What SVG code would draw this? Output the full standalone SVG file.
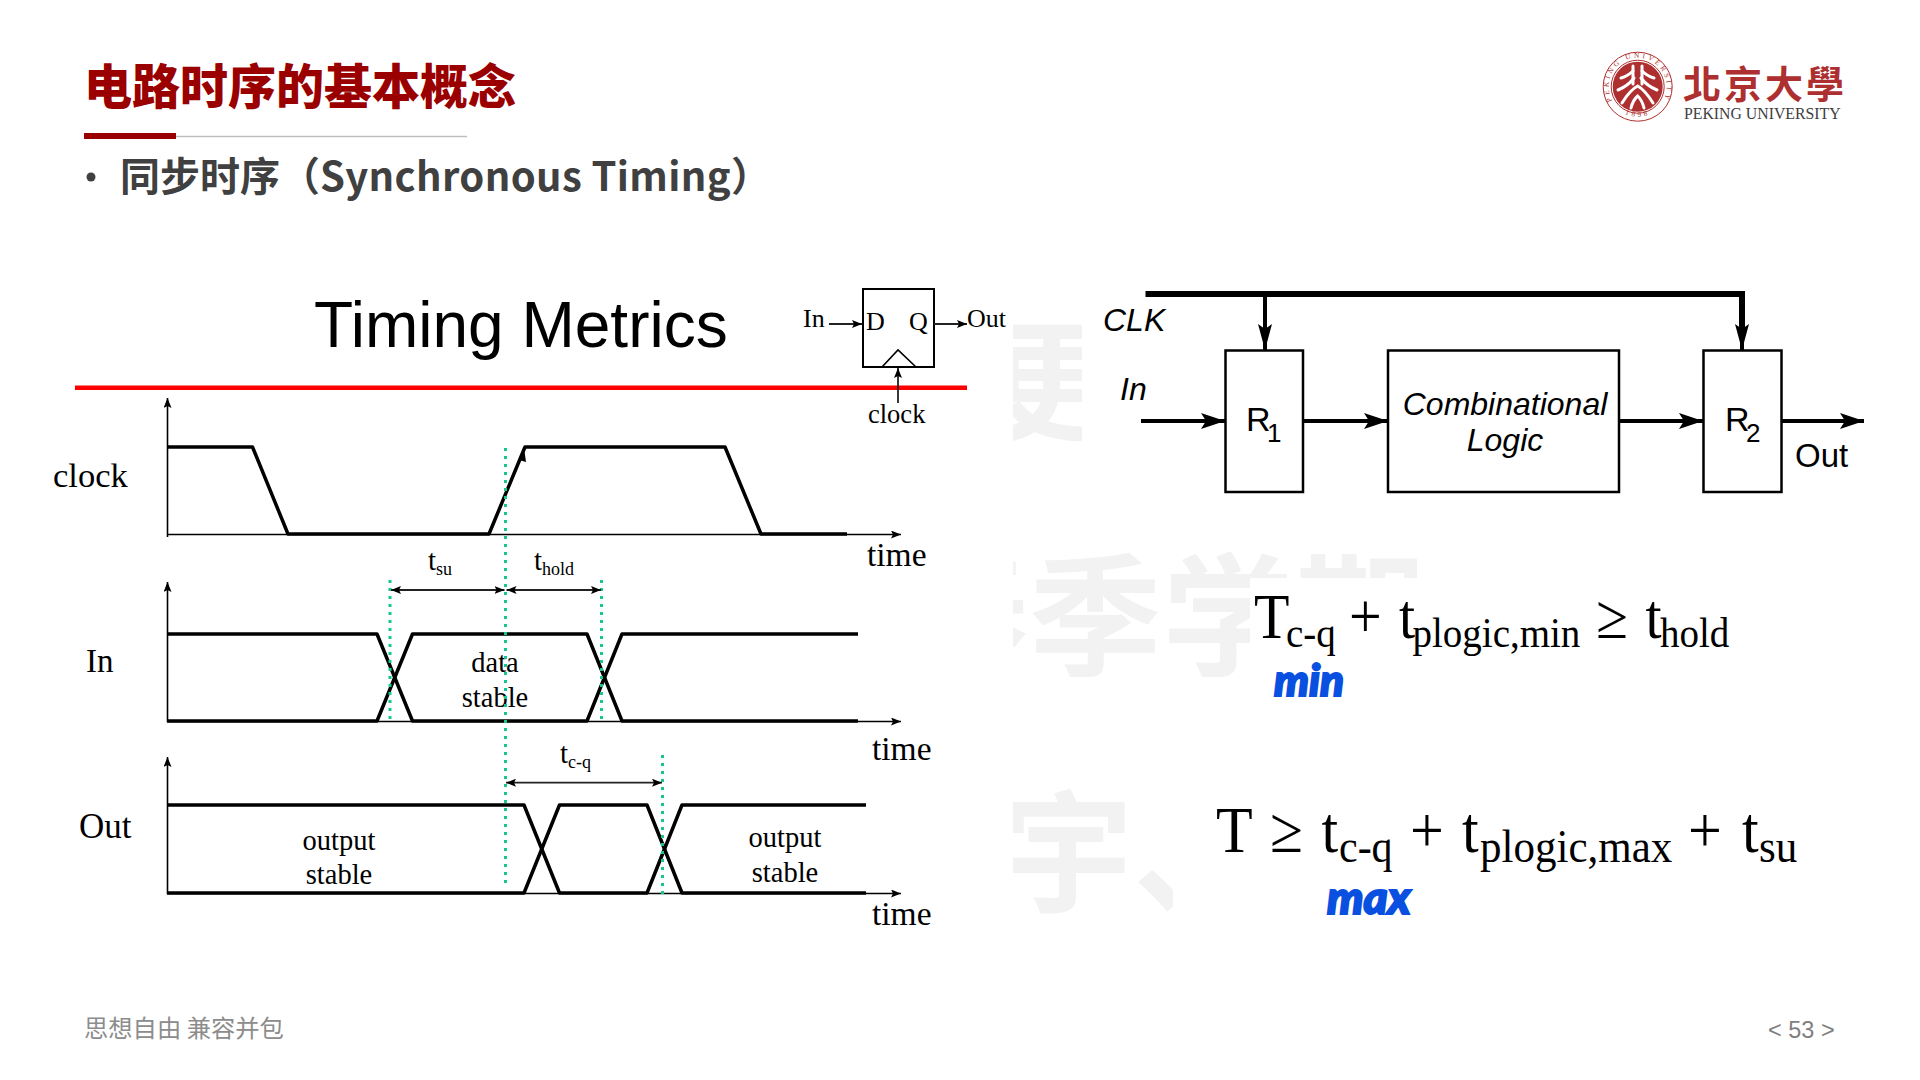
<svg xmlns="http://www.w3.org/2000/svg" width="1920" height="1080" viewBox="0 0 1920 1080">
<style>
.wm{font-family:"Noto Sans CJK SC",sans-serif;font-weight:700;font-size:133px;fill:#f2f2f2}
.se{font-family:"Liberation Serif",serif;fill:#000}
.sa{font-family:"Liberation Sans",sans-serif;fill:#000}
.it{font-style:italic}
.wave{fill:none;stroke:#000;stroke-width:3.5;stroke-linejoin:round}
.ax{fill:none;stroke:#000;stroke-width:1.6}
.dot{fill:none;stroke:#13c795;stroke-width:3;stroke-dasharray:3 5}
.dim{fill:none;stroke:#222;stroke-width:1.8}
.box{fill:#fff;stroke:#000;stroke-width:2.5}
.bus{fill:none;stroke:#000;stroke-width:4}
.ink{font-family:"Lato",sans-serif;font-weight:900;font-style:italic;fill:#0a50e0;stroke:#0a50e0;stroke-width:2}
.seal{fill:none;stroke:#ae2f2f}
.ring{font-family:"Liberation Serif",serif;font-size:7.3px;fill:#ae2f2f}
</style>
<defs>
<marker id="tip" viewBox="0 0 10 8" refX="10" refY="4" markerWidth="10" markerHeight="8" markerUnits="userSpaceOnUse" orient="auto-start-reverse"><path d="M0 0L10 4L0 8L2 4Z" fill="#000"/></marker>
<marker id="big" viewBox="0 0 24 16" refX="24" refY="8" markerWidth="24" markerHeight="16" markerUnits="userSpaceOnUse" orient="auto"><path d="M0 0L24 8L0 16L5 8Z" fill="#000"/></marker>
<marker id="down" viewBox="0 0 14 26" refX="7" refY="26" markerWidth="14" markerHeight="26" markerUnits="userSpaceOnUse" orient="0"><path d="M0 0L7 5L14 0L7 26Z" fill="#000"/></marker>
<path id="ringTop" d="M1612.600 101.200A29 29 0 1 1 1662.800 101.200"/>
<path id="ringBot" d="M1609.500 97A30 30 0 0 0 1665.900 97"/>
<clipPath id="wmClip">
<rect x="1013" y="300" width="69" height="141"/>
<rect x="1013" y="540" width="237" height="137"/>
<rect x="1250" y="540" width="167" height="38"/>
<rect x="1013" y="780" width="160" height="136"/>
</clipPath>
</defs>

<g id="watermark" clip-path="url(#wmClip)">
<text class="wm" x="984" y="432">更</text>
<text class="wm" x="896" y="666">春季学期</text>
<text class="wm" x="1000" y="902">宇、</text>
</g>

<g id="header">
<text x="84" y="104" font-family="'Noto Sans CJK SC',sans-serif" font-weight="900" font-size="48" fill="#9b0000">电路时序的基本概念</text>
<rect x="84" y="133" width="92" height="6" fill="#9b0000"/>
<rect x="176" y="135.800" width="291" height="1.400" fill="#bdbdbd"/>
<circle cx="91" cy="177" r="4.500" fill="#404040"/>
<text x="120" y="191" font-family="'Noto Sans CJK SC',sans-serif" font-weight="700" font-size="40" fill="#404040">同步时序（<tspan letter-spacing="0.35">Synchronous Timing</tspan>）</text>
</g>

<g id="logo">
<circle class="seal" cx="1637.700" cy="86.700" r="34.500" stroke-width="1"/>
<circle class="seal" cx="1637.700" cy="86.700" r="26.500" stroke-width="1"/>
<circle cx="1637.700" cy="86.700" r="25" fill="#ae2f2f"/>
<g fill="none" stroke="#fff" stroke-width="3" stroke-linecap="round">
<path d="M1633 66V84M1642 66V84"/>
<path d="M1621 78Q1628 76 1633 71M1654 78Q1647 76 1642 71"/>
<path d="M1618 90Q1628 86 1634 78M1657 90Q1647 86 1641 78"/>
<path d="M1622 103Q1630 90 1637.700 86Q1645 90 1653 103"/>
<path d="M1631 108Q1633 100 1637.700 96Q1642 100 1644 108"/>
</g>
<text class="ring" letter-spacing="2.800"><textPath href="#ringTop" startOffset="50%" text-anchor="middle">PEKING UNIVERSITY</textPath></text>
<text class="ring" letter-spacing="3"><textPath href="#ringBot" startOffset="50%" text-anchor="middle">1898</textPath></text>
<text x="1683" y="98" font-family="'Noto Sans CJK TC',sans-serif" font-weight="700" font-size="38" letter-spacing="3" fill="#ae2f2f">北京大學</text>
<text x="1684" y="119" font-family="'Liberation Serif',serif" font-size="15.800" fill="#404040">PEKING UNIVERSITY</text>
</g>

<g id="title-metrics"><text class="sa" x="314" y="347" font-size="64">Timing Metrics</text></g>
<rect id="red-rule" x="75" y="385.500" width="892" height="4.500" fill="#ff0000"/>

<g id="flipflop">
<rect x="863" y="289" width="71" height="78" fill="none" stroke="#000" stroke-width="2"/>
<path d="M882 367L898 350L916 367" fill="none" stroke="#000" stroke-width="1.600"/>
<text class="se" x="803" y="327" font-size="26">In</text>
<text class="se" x="866" y="330" font-size="26">D</text>
<text class="se" x="909" y="330" font-size="26">Q</text>
<text class="se" x="967" y="327" font-size="26">Out</text>
<text class="se" x="868" y="423" font-size="26.500">clock</text>
</g>

<g id="timing-labels">
<text class="se" x="53" y="487" font-size="34.500">clock</text>
<text class="se" x="86" y="672" font-size="33">In</text>
<text class="se" x="79" y="838" font-size="35">Out</text>
<text class="se" x="867" y="566" font-size="33.500">time</text>
<text class="se" x="872" y="760" font-size="33.500">time</text>
<text class="se" x="872" y="925" font-size="33.500">time</text>
<text class="se" x="495" y="672" font-size="28.500" text-anchor="middle">data</text>
<text class="se" x="495" y="707" font-size="28.500" text-anchor="middle">stable</text>
<text class="se" x="339" y="850" font-size="28.500" text-anchor="middle">output</text>
<text class="se" x="339" y="884" font-size="28.500" text-anchor="middle">stable</text>
<text class="se" x="785" y="847" font-size="28.500" text-anchor="middle">output</text>
<text class="se" x="785" y="882" font-size="28.500" text-anchor="middle">stable</text>
<text class="se" font-size="29"><tspan x="428" y="570">t</tspan><tspan x="436" y="575" font-size="18">su</tspan></text>
<text class="se" font-size="29"><tspan x="534" y="570">t</tspan><tspan x="542" y="575" font-size="18">hold</tspan></text>
<text class="se" font-size="29"><tspan x="560" y="763">t</tspan><tspan x="568" y="768" font-size="18">c-q</tspan></text>
</g>

<g id="connectors">
<g id="timing-axes">
<path class="ax" d="M167.500 537V398" marker-end="url(#tip)"/>
<path class="ax" d="M167 534.500H901" marker-end="url(#tip)"/>
<path class="ax" d="M167.500 722V582" marker-end="url(#tip)"/>
<path class="ax" d="M167 721.500H901" marker-end="url(#tip)"/>
<path class="ax" d="M167.500 894V757" marker-end="url(#tip)"/>
<path class="ax" d="M167 893.500H901" marker-end="url(#tip)"/>
</g>
<g id="waves">
<path class="wave" d="M167 447H252.500L288 534H489L525 447H725L761 534H847"/>
<path d="M524 448L519 460L526 462Z" fill="#000"/>
<path class="wave" d="M167 634H377L412.500 721H587L622 634H858"/>
<path class="wave" d="M167 721H377L412.500 634H587L622 721H858"/>
<path class="wave" d="M167 805H524L559.500 893H647L682 805H866"/>
<path class="wave" d="M167 893H524L559.500 805H647L682 893H866"/>
</g>
<g id="dotted">
<path class="dot" d="M505.500 448V885"/>
<path class="dot" d="M390 580V722"/>
<path class="dot" d="M601.500 580V722"/>
<path class="dot" d="M662.500 755V895"/>
</g>
<g id="dims">
<path class="dim" d="M391 590H504.500" marker-start="url(#tip)" marker-end="url(#tip)"/>
<path class="dim" d="M506.500 590H601" marker-start="url(#tip)" marker-end="url(#tip)"/>
<path class="dim" d="M506 782.700H662" marker-start="url(#tip)" marker-end="url(#tip)"/>
</g>
<g id="ff-arrows">
<path class="dim" d="M829 324H862" marker-end="url(#tip)"/>
<path class="dim" d="M934 324H967" marker-end="url(#tip)"/>
<path class="dim" d="M898 403V368" marker-end="url(#tip)"/>
</g>
<g id="rtl-arrows">
<path d="M1145.500 294H1742V330" fill="none" stroke="#000" stroke-width="6"/>
<path class="bus" d="M1265 294V350" stroke-width="3.500" marker-end="url(#down)"/>
<path d="M1742 324V350" fill="none" stroke="#000" stroke-width="4" marker-end="url(#down)"/>
<path class="bus" d="M1141 421H1225" marker-end="url(#big)"/>
<path class="bus" d="M1303 421H1388" marker-end="url(#big)"/>
<path class="bus" d="M1619 421H1703" marker-end="url(#big)"/>
<path class="bus" d="M1782 421H1864" marker-end="url(#big)"/>
</g>
</g>

<g id="R1"><rect class="box" x="1225.500" y="350.500" width="77.500" height="141.500"/>
<text class="sa" font-size="34"><tspan x="1246" y="431">R</tspan><tspan x="1267" y="442" font-size="26">1</tspan></text></g>
<g id="logic"><rect class="box" x="1388" y="350.500" width="231" height="141.500"/>
<text class="sa it" x="1505" y="415" font-size="32" text-anchor="middle">Combinational</text>
<text class="sa it" x="1505" y="451" font-size="32" text-anchor="middle">Logic</text></g>
<g id="R2"><rect class="box" x="1703.500" y="350.500" width="78" height="141.500"/>
<text class="sa" font-size="34"><tspan x="1725" y="431">R</tspan><tspan x="1746" y="442" font-size="26">2</tspan></text></g>
<g id="rtl-labels">
<text class="sa it" x="1103" y="331" font-size="32">CLK</text>
<text class="sa it" x="1120" y="400" font-size="32">In</text>
<text class="sa" x="1795" y="467" font-size="33">Out</text>
</g>

<g id="eq1" transform="translate(0 638) scale(1 1.080)">
<text class="se" font-size="58"><tspan x="1254" y="0">T</tspan><tspan x="1286" y="8" font-size="39">c-q</tspan><tspan x="1349" y="0">+</tspan><tspan x="1399" y="0">t</tspan><tspan x="1412.500" y="8" font-size="39">plogic,min</tspan><tspan x="1596" y="0">≥</tspan><tspan x="1645.500" y="0">t</tspan><tspan x="1660" y="8" font-size="39">hold</tspan></text>
</g>
<text class="ink" x="1274" y="696" font-size="44">min</text>
<g id="eq2" transform="translate(0 852) scale(1 1.080)">
<text class="se" font-size="60"><tspan x="1216" y="0">T</tspan><tspan x="1270" y="0">≥</tspan><tspan x="1321.500" y="0">t</tspan><tspan x="1339" y="9" font-size="42">c-q</tspan><tspan x="1410" y="0">+</tspan><tspan x="1462" y="0">t</tspan><tspan x="1480" y="9" font-size="43">plogic,max</tspan><tspan x="1688" y="0">+</tspan><tspan x="1742" y="0">t</tspan><tspan x="1759" y="9" font-size="43">su</tspan></text>
</g>
<text class="ink" x="1327" y="914" font-size="46">max</text>

<g id="footer">
<text x="84" y="1037" font-family="'Noto Sans CJK SC',sans-serif" font-size="24.300" fill="#8c8c8c">思想自由 兼容并包</text>
<text x="1768" y="1038" font-family="'Liberation Sans',sans-serif" font-size="23.500" fill="#7f7f7f">&lt; 53 &gt;</text>
</g>
</svg>
